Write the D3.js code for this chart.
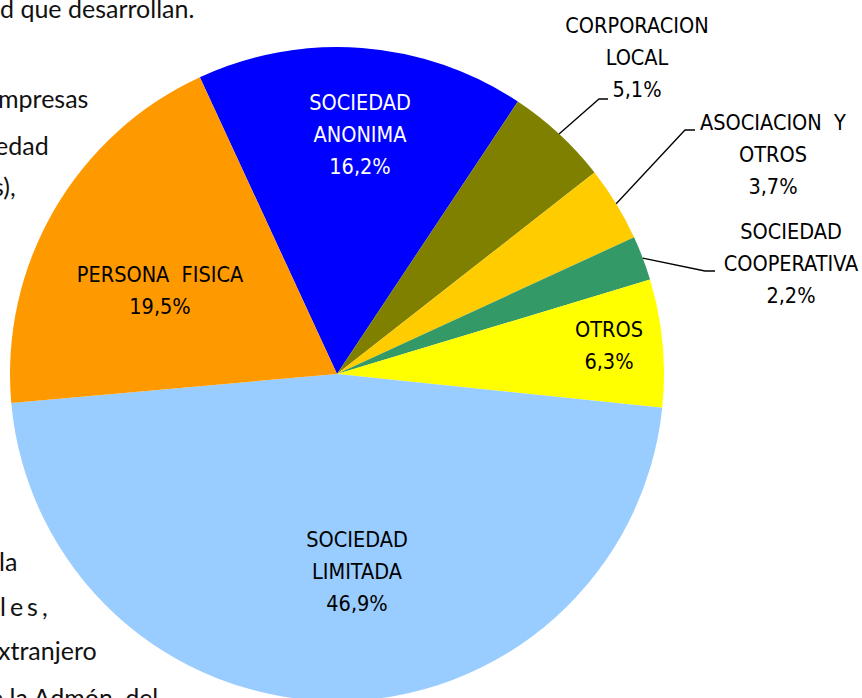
<!DOCTYPE html>
<html>
<head>
<meta charset="utf-8">
<script src="https://cdn.jsdelivr.net/npm/d3@7"></script>
<style>
  html, body { margin: 0; padding: 0; background: #fff; overflow: hidden; }
  svg { display: block; }
</style>
</head>
<body>
<svg id="chart" width="862" height="698"></svg>
<script>
// ---- data ----
const categories = ["SOCIEDAD ANONIMA", "CORPORACION LOCAL", "ASOCIACION Y OTROS", "SOCIEDAD COOPERATIVA", "OTROS", "SOCIEDAD LIMITADA", "PERSONA FISICA"];
const values = [16.2, 5.1, 3.7, 2.2, 6.3, 46.9, 19.5];
const valueLabels = ["16,2%", "5,1%", "3,7%", "2,2%", "6,3%", "46,9%", "19,5%"];
const labelLines = [
  ["SOCIEDAD", "ANONIMA"],
  ["CORPORACION", "LOCAL"],
  ["ASOCIACION  Y", "OTROS"],
  ["SOCIEDAD", "COOPERATIVA"],
  ["OTROS"],
  ["SOCIEDAD", "LIMITADA"],
  ["PERSONA  FISICA"]
];
const colors = ["#0000FF", "#808000", "#FFCC00", "#339966", "#FFFF00", "#99CCFF", "#FF9900"];
const textColors = ["#ffffff", "#000", "#000", "#000", "#000", "#000", "#000"];

// background paragraph fragments (clipped text behind the chart)
const bgText = ["d que desarrollan.", "mpresas", "edad", "s),", "la", "les,", "xtranjero", "e la Admón. del"];

// ---- layout ----
const cx = 337, cy = 374, R = 327;
const startDeg = -24.8;
const labelPos = [
  [360, 110], [637, 33], [773, 130], [791, 239], [609, 337], [357, 547], [160, 282]
];
const leaders = { 1: [[599, 99], [608, 99]], 2: [[685, 130], [695, 130]], 3: [[705, 271], [715, 271]] };
const bgPos = [[0, 18], [-2, 108], [-5, 155], [-7, 196], [-1, 571], [0, 616], [-2, 660], [-10, 707]];
const bgSpacing = [0, 0, 0, 0, 0, 4, 0, 0];
const lineH = 32;

const svg = d3.select("#chart");

// background text
svg.append("g").selectAll("text").data(bgText).join("text")
  .attr("x", (d, i) => bgPos[i][0])
  .attr("y", (d, i) => bgPos[i][1])
  .attr("font-family", "Lato, 'Open Sans', sans-serif")
  .attr("font-size", 25)
  .attr("letter-spacing", (d, i) => bgSpacing[i])
  .attr("fill", "#111")
  .text(d => d);

const pie = d3.pie().sort(null).value(d => d)
  .startAngle(startDeg * Math.PI / 180)
  .endAngle(startDeg * Math.PI / 180 + 2 * Math.PI);
const arcs = pie(values);
const arc = d3.arc().innerRadius(0).outerRadius(R);

const g = svg.append("g").attr("transform", `translate(${cx},${cy})`);
g.selectAll("path").data(arcs).join("path")
  .attr("d", arc)
  .attr("fill", (d, i) => colors[i]);

// leader lines
Object.keys(leaders).forEach(k => {
  const a = arcs[k];
  const mid = (a.startAngle + a.endAngle) / 2;
  const sx = cx + R * Math.sin(mid), sy = cy - R * Math.cos(mid);
  const pts = [[sx, sy]].concat(leaders[k]);
  svg.append("path")
    .attr("d", d3.line()(pts))
    .attr("fill", "none")
    .attr("stroke", "#000")
    .attr("stroke-width", 1.3);
});

// labels
const lg = svg.append("g")
  .attr("font-family", "'Liberation Sans Narrow', 'DejaVu Sans Condensed', 'Roboto Condensed', sans-serif")
  .attr("font-size", 21.5)
  .attr("text-anchor", "middle");
categories.forEach((c, i) => {
  const lines = labelLines[i].concat([valueLabels[i]]);
  const t = lg.append("text")
    .attr("fill", textColors[i])
    .style("white-space", "pre");
  lines.forEach((ln, j) => {
    t.append("tspan")
      .attr("x", labelPos[i][0])
      .attr("y", labelPos[i][1] + j * lineH)
      .text(ln);
  });
});
</script>
</body>
</html>
